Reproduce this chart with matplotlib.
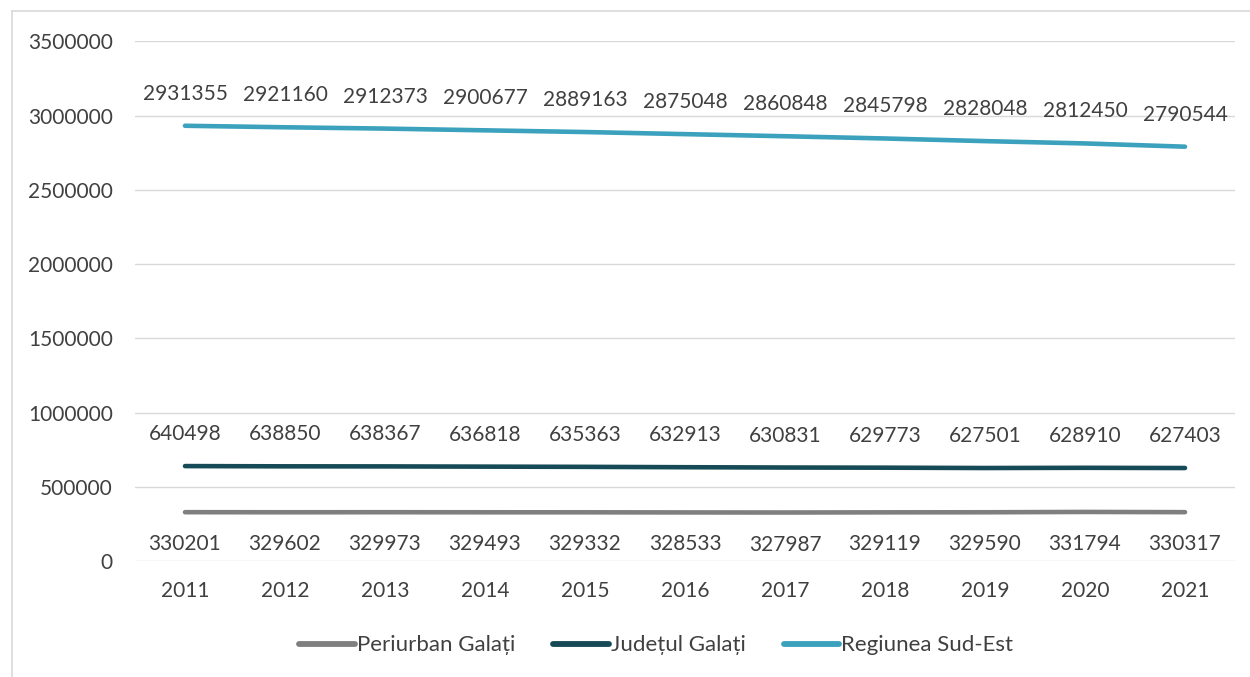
import matplotlib.pyplot as plt
import numpy as np

years = ["2011", "2012", "2013", "2014", "2015", "2016", "2017", "2018", "2019", "2020", "2021"]
periurban = [330201, 329602, 329973, 329493, 329332, 328533, 327987, 329119, 329590, 331794, 330317]
judet = [640498, 638850, 638367, 636818, 635363, 632913, 630831, 629773, 627501, 628910, 627403]
regiune = [2931355, 2921160, 2912373, 2900677, 2889163, 2875048, 2860848, 2845798, 2828048, 2812450, 2790544]

plt.rcParams['font.family'] = ['Lato', 'DejaVu Sans']
txt = '#404040'
fs = 15

fig = plt.figure(figsize=(12.5, 6.77), dpi=100)
ax = fig.add_axes([0.108, 0.171, 0.88, 0.768])
x = np.arange(len(years))

series = [
    ("Periurban Galați", periurban, '#7f7f7f', -1),
    ("Județul Galați", judet, '#154a56', 1),
    ("Regiunea Sud-Est", regiune, '#3ba1bd', 1),
]
for name, vals, col, side in series:
    ax.plot(x, vals, color=col, lw=3.3, solid_capstyle='round', label=name)
    for xi, v in zip(x, vals):
        ax.annotate(str(v), (xi, v), xytext=(0, 32 * side), textcoords='offset pixels',
                    ha='center', va='center', fontsize=fs, color=txt)

ax.set_xlim(-0.5, len(years) - 0.5)
ax.set_ylim(0, 3500000)
ax.set_yticks(np.arange(0, 3500001, 500000))
ax.set_yticklabels([str(v) for v in range(0, 3500001, 500000)])
ax.set_xticks(x)
ax.set_xticklabels(years)
ax.grid(axis='y', color='#d9d9d9', lw=1)
ax.set_axisbelow(True)
for s in ax.spines.values():
    s.set_visible(False)
ax.tick_params(length=0, labelsize=fs, colors=txt)
ax.tick_params(axis='x', pad=14)
ax.tick_params(axis='y', pad=16)

leg = ax.legend(loc='center', bbox_to_anchor=(0.474, -0.162), ncol=3, frameon=False,
                fontsize=16, handlelength=2.5, handletextpad=0.1, columnspacing=1.7,
                labelcolor=txt)
for h in leg.get_lines():
    h.set_linewidth(4.2)

# outer chart frame: only left and top edges are visible in the crop
fig.add_artist(plt.Line2D([0.0092, 0.0092], [0, 0.984], color='#d9d9d9', lw=1.2,
                          transform=fig.transFigure))
fig.add_artist(plt.Line2D([0.0092, 1], [0.984, 0.984], color='#d9d9d9', lw=1.2,
                          transform=fig.transFigure))

fig.savefig('out.png', dpi=100)
